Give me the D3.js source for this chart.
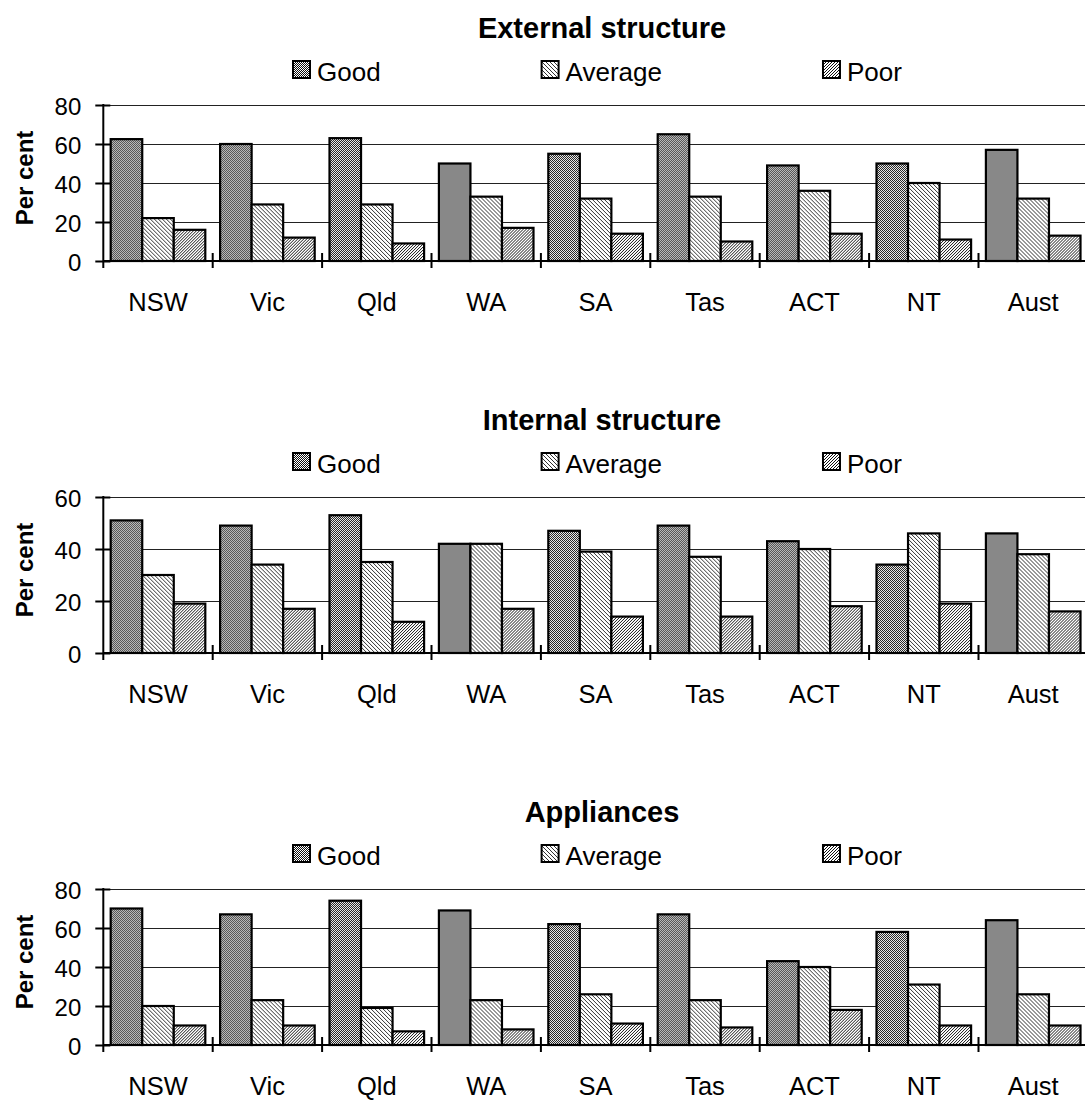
<!DOCTYPE html>
<html><head><meta charset="utf-8">
<script src="https://cdn.jsdelivr.net/npm/d3@7"></script>
<style>
body{margin:0;background:#fff;}
svg{display:block;font-family:"Liberation Sans",Arial,sans-serif;}
</style></head><body>
<svg id="chart" width="1085" height="1102"></svg>
<script>
const categories = ["NSW","Vic","Qld","WA","SA","Tas","ACT","NT","Aust"];
const seriesNames = ["Good","Average","Poor"];
const panelTitles = ["External structure","Internal structure","Appliances"];

const externalGood    = [62.5,60,63,50,55,65,49,50,57];
const externalAverage = [22,29,29,33,32,33,36,40,32];
const externalPoor    = [16,12,9,17,14,10,14,11,13];

const internalGood    = [51,49,53,42,47,49,43,34,46];
const internalAverage = [30,34,35,42,39,37,40,46,38];
const internalPoor    = [19,17,12,17,14,14,18,19,16];

const appliancesGood    = [70,67,74,69,62,67,43,58,64];
const appliancesAverage = [20,23,19,23,26,23,40,31,26];
const appliancesPoor    = [10,10,7,8,11,9,18,10,10];

const externalTicks   = [0,20,40,60,80];
const internalTicks   = [0,20,40,60];
const appliancesTicks = [0,20,40,60,80];

const yAxisTitle = "Per cent";

const panels = [
  {title: panelTitles[0], series: [externalGood, externalAverage, externalPoor], ticks: externalTicks},
  {title: panelTitles[1], series: [internalGood, internalAverage, internalPoor], ticks: internalTicks},
  {title: panelTitles[2], series: [appliancesGood, appliancesAverage, appliancesPoor], ticks: appliancesTicks}
];

const svg = d3.select("#chart");
const defs = svg.append("defs");
function pixelPattern(id, size, bg, pixels) {
  const p = defs.append("pattern").attr("id", id)
    .attr("patternUnits","userSpaceOnUse").attr("width",size).attr("height",size);
  p.append("rect").attr("width",size).attr("height",size).attr("fill",bg);
  pixels.forEach(([a,b,c]) => p.append("rect").attr("x",a).attr("y",b)
    .attr("width",1).attr("height",1).attr("fill",c).attr("shape-rendering","crispEdges"));
}
pixelPattern("pGood", 2, "#111", [[0,0,"#fff"],[1,1,"#fff"]]);
pixelPattern("pAverage", 4, "#fff", [[0,0,"#333"],[1,1,"#333"],[2,2,"#333"],[3,3,"#333"]]);
pixelPattern("pPoor", 3, "#fff", [[2,0,"#111"],[1,1,"#111"],[0,2,"#111"]]);
const fills = {Good:"url(#pGood)", Average:"url(#pAverage)", Poor:"url(#pPoor)"};

const plotLeft = 103.3, bandW = 109.4, plotH = 156, panelStep = 392;
const plotRight = plotLeft + bandW * categories.length;

panels.forEach((panel, pi) => {
  const off = pi * panelStep;
  const top = 105 + off, bottom = top + plotH;
  const g = svg.append("g");

  const x0 = d3.scaleBand().domain(categories).range([plotLeft, plotRight]).padding(0);
  const x1 = d3.scaleBand().domain(seriesNames).range([7.4, bandW - 7.4]).padding(0);
  const yMax = d3.max(panel.ticks);
  const y = d3.scaleLinear().domain([0, yMax]).range([bottom, top]);

  // title
  g.append("text").attr("x", 602).attr("y", 38 + off).attr("text-anchor","middle")
    .attr("font-size", 29).attr("font-weight","bold").text(panel.title);

  // legend
  let lx = 293;
  seriesNames.forEach(s => {
    g.append("rect").attr("x", lx).attr("y", 61 + off).attr("width", 17).attr("height", 17)
      .attr("fill", fills[s]).attr("stroke","#000").attr("stroke-width",2);
    const t = g.append("text").attr("x", lx + 24).attr("y", 81 + off)
      .attr("font-size", 26).text(s);
    lx = lx + 24 + t.node().getComputedTextLength() + 161;
  });

  // gridlines
  g.append("g").selectAll("line").data(panel.ticks.filter(t => t > 0)).join("line")
    .attr("x1", plotLeft).attr("x2", plotRight)
    .attr("y1", d => Math.round(y(d)) + 0.5).attr("y2", d => Math.round(y(d)) + 0.5)
    .attr("stroke", "#222").attr("stroke-width", 1);

  // bars
  const rows = categories.map((c, i) => ({c, vals: seriesNames.map((s, k) => ({s, v: panel.series[k][i]}))}));
  g.append("g").selectAll("g").data(rows).join("g")
    .attr("transform", d => `translate(${x0(d.c)},0)`)
    .selectAll("rect").data(d => d.vals).join("rect")
    .attr("x", d => x1(d.s)).attr("width", x1.bandwidth())
    .attr("y", d => y(d.v)).attr("height", d => bottom - y(d.v))
    .attr("fill", d => fills[d.s]).attr("stroke", "#000").attr("stroke-width", 2.2);

  // y axis
  const yAxis = g.append("g").attr("transform", `translate(${plotLeft},0)`)
    .call(d3.axisLeft(y).tickValues(panel.ticks).tickSize(8).tickPadding(14).tickFormat(d3.format("d")));
  yAxis.select(".domain").remove();
  yAxis.selectAll(".tick line").attr("x1", 7).attr("x2", -8).attr("stroke","#000").attr("stroke-width",2);
  yAxis.selectAll(".tick text").attr("font-size", 24).attr("font-family",null).attr("fill","#000").attr("dy","0.38em");
  g.append("line").attr("x1", plotLeft).attr("x2", plotLeft).attr("y1", top - 1).attr("y2", bottom + 7)
    .attr("stroke","#000").attr("stroke-width",2);

  // x axis line and boundary ticks
  g.append("line").attr("x1", plotLeft).attr("x2", plotRight).attr("y1", bottom).attr("y2", bottom)
    .attr("stroke","#000").attr("stroke-width",2);
  g.append("g").selectAll("line").data(categories.slice(1)).join("line")
    .attr("x1", d => x0(d)).attr("x2", d => x0(d))
    .attr("y1", bottom - 8).attr("y2", bottom + 7)
    .attr("stroke","#000").attr("stroke-width",2);

  // x labels
  const xAxis = g.append("g").attr("transform", `translate(0,${bottom})`)
    .call(d3.axisBottom(x0).tickSize(0).tickPadding(34));
  xAxis.select(".domain").remove();
  xAxis.selectAll(".tick text").attr("font-size", 25.5).attr("font-family",null).attr("fill","#000")
    .attr("dy", null).attr("y", 50).attr("dominant-baseline", null);

  // y axis title
  g.append("text").attr("transform", `translate(33,${178 + off}) rotate(-90)`)
    .attr("text-anchor","middle").attr("font-size", 24).attr("font-weight","bold").text(yAxisTitle);
});
</script>
</body></html>
